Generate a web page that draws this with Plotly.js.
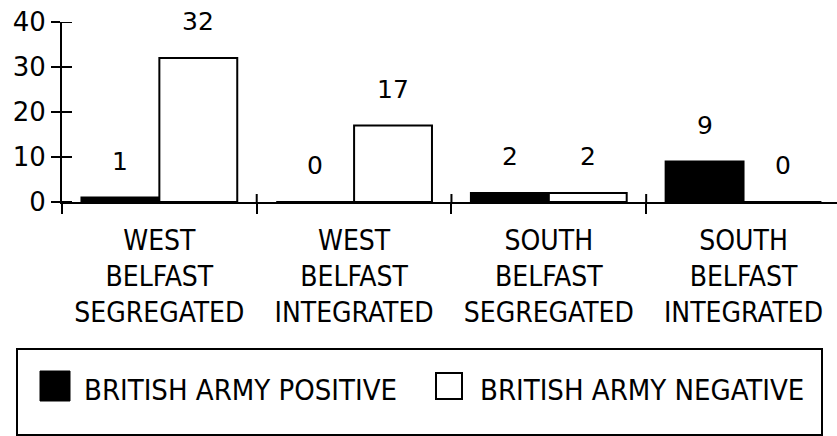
<!DOCTYPE html>
<html>
<head>
<meta charset="utf-8">
<script src="https://cdn.plot.ly/plotly-3.0.1.min.js"></script>
<style>
  html, body { margin: 0; padding: 0; background: #fff; }
  #chart { width: 837px; height: 436px; }
</style>
</head>
<body>
<div id="chart"></div>
<script>
// categories and values
const categories = ['WEST<br>BELFAST<br>SEGREGATED', 'WEST<br>BELFAST<br>INTEGRATED',
                    'SOUTH<br>BELFAST<br>SEGREGATED', 'SOUTH<br>BELFAST<br>INTEGRATED'];
const seriesNames = ['BRITISH ARMY POSITIVE', 'BRITISH ARMY NEGATIVE'];
const positive = [1, 0, 2, 9];
const negative = [32, 17, 2, 0];
const yTicks = [0, 10, 20, 30, 40];

const numFont = 'DejaVu Sans, Verdana, sans-serif';
const txtFont = 'Liberation Sans Narrow, Arial Narrow, DejaVu Sans Condensed, sans-serif';

// plot area in pixels, used only to place the hand made legend and inner ticks
const L = 62, T = 22, W = 775, H = 180;
const px = x => (x - L) / W;
const py = y => (T + H - y) / H;

const traces = [
  {
    type: 'bar', x: categories, y: positive, name: seriesNames[0],
    marker: { color: '#000', line: { color: '#000', width: 2 } },
    hoverinfo: 'skip'
  },
  {
    type: 'bar', x: categories, y: negative, name: seriesNames[1],
    marker: { color: '#fff', line: { color: '#000', width: 2 } },
    hoverinfo: 'skip'
  }
];

// value labels above each bar
const annotations = [];
[positive, negative].forEach((vals, s) => {
  vals.forEach((v, i) => {
    annotations.push({
      x: i, y: v, xref: 'x', yref: 'y', text: String(v), showarrow: false,
      xshift: s === 0 ? -39 : 39, yanchor: 'bottom', yshift: 20,
      font: { family: numFont, size: 25, color: '#000' }
    });
  });
});

const shapes = [];
// inner half of the crossing ticks
yTicks.forEach(v => {
  shapes.push({ type: 'line', xref: 'paper', yref: 'y', x0: 0, x1: px(72), y0: v, y1: v,
    line: { color: '#000', width: 2 } });
});
categories.forEach((c, i) => {
  if (i === 0) return;
  shapes.push({ type: 'line', xref: 'x', yref: 'paper', x0: i - 0.5, x1: i - 0.5, y0: 0, y1: py(194),
    line: { color: '#000', width: 2 } });
});

// legend box drawn by hand so the keys can be large
shapes.push(
  { type: 'rect', xref: 'paper', yref: 'paper', x0: px(17), x1: px(822), y0: py(435), y1: py(349),
    line: { color: '#000', width: 2 }, fillcolor: 'rgba(0,0,0,0)' },
  { type: 'rect', xref: 'paper', yref: 'paper', x0: px(40), x1: px(70), y0: py(401), y1: py(371),
    line: { color: '#000', width: 1 }, fillcolor: '#000' },
  { type: 'rect', xref: 'paper', yref: 'paper', x0: px(436), x1: px(462), y0: py(399), y1: py(373),
    line: { color: '#000', width: 2 }, fillcolor: '#fff' }
);
[[82, seriesNames[0]], [478, seriesNames[1]]].forEach(([x, name]) => {
  annotations.push({
    xref: 'paper', yref: 'paper', x: px(x), y: py(390), xanchor: 'left', yanchor: 'middle',
    text: name, showarrow: false,
    font: { family: txtFont, size: 29, color: '#000' }
  });
});

const layout = {
  width: 837, height: 436,
  margin: { l: L, r: 0, t: T, b: 436 - T - H },
  paper_bgcolor: '#fff', plot_bgcolor: '#fff',
  showlegend: false,
  barmode: 'group', bargap: 0.2, bargroupgap: 0,
  xaxis: {
    type: 'category', range: [-0.5, 3.48],
    showline: true, linecolor: '#000', linewidth: 2,
    ticks: 'outside', tickson: 'boundaries', ticklen: 10, tickwidth: 2, tickcolor: '#000',
    showgrid: false, zeroline: false, ticklabelstandoff: 12,
    tickfont: { family: txtFont, size: 28, color: '#000' }
  },
  yaxis: {
    range: [0, 40], tickvals: yTicks, showline: true, linecolor: '#000', linewidth: 2,
    ticks: 'outside', ticklen: 9, tickwidth: 2, tickcolor: '#000',
    showgrid: false, zeroline: false, ticklabelstandoff: 0,
    tickfont: { family: numFont, size: 26, color: '#000' }
  },
  shapes: shapes,
  annotations: annotations
};

Plotly.newPlot('chart', traces, layout, { staticPlot: true });
</script>
</body>
</html>
